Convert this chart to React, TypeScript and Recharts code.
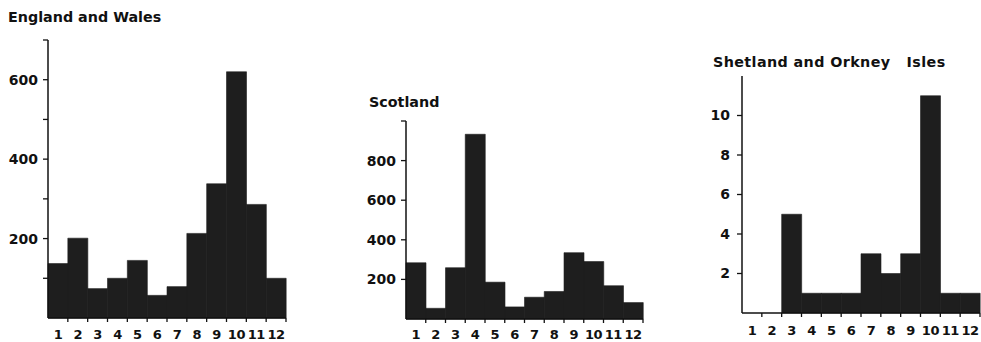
import React from 'react';
import { BarChart, Bar, XAxis, YAxis } from 'recharts';

const months = ['1', '2', '3', '4', '5', '6', '7', '8', '9', '10', '11', '12'];
const englandWales = [137, 201, 74, 100, 145, 57, 79, 213, 338, 620, 286, 100];
const scotland = [284, 54, 259, 933, 186, 61, 110, 139, 335, 290, 168, 83];
const shetland = [0, 0, 5, 1, 1, 1, 3, 2, 3, 11, 1, 1];

const ewTicks = [100, 200, 300, 400, 500, 600, 700];
const ewLabels = [200, 400, 600];
const scTicks = [200, 400, 600, 800, 1000];
const scLabels = [200, 400, 600, 800];
const shTicks = [2, 4, 6, 8, 10];
const shLabels = [2, 4, 6, 8, 10];

const titles = ['England and Wales', 'Scotland', 'Shetland and Orkney   Isles'];

const FONT = 'DejaVu Sans';
const INK = '#111';
const BAR = '#1e1e1e';

const build = (vals: number[]) => months.map((m, i) => ({ m, v: vals[i] }));

type PanelProps = {
  left: number;
  width: number;
  vals: number[];
  domainMax: number;
  ticks: number[];
  labels: number[];
  top: number;
  xHeight: number;
  yWidth: number;
  mLeft: number;
  mRight: number;
  labelDy: number;
  tickMargin: number;
};

const makeTick = (band: number, labelDy: number) => (props: any) => {
  const { x, y, payload } = props;
  return (
    <g>
      <line x1={x + band / 2} x2={x + band / 2} y1={y} y2={y + 4} stroke={INK} strokeWidth={1.3} />
      <text
        x={x}
        y={y + labelDy}
        textAnchor="middle"
        fill={INK}
        fontSize={13}
        fontWeight="bold"
        fontFamily={FONT}
        letterSpacing={-0.5}
      >
        {payload.value}
      </text>
    </g>
  );
};

const Panel = (p: PanelProps) => {
  const plotW = p.width - p.yWidth - p.mLeft - p.mRight;
  const band = plotW / months.length;
  return (
    <div style={{ position: 'absolute', left: p.left, top: 0, width: p.width, height: 342 }}>
      <BarChart
        width={p.width}
        height={342}
        data={build(p.vals)}
        margin={{ top: p.top, right: p.mRight, left: p.mLeft, bottom: 0 }}
        barCategoryGap={0}
        barGap={0}
      >
        <XAxis
          dataKey="m"
          height={p.xHeight}
          interval={0}
          tickLine={false}
          tickSize={0}
          tickMargin={0}
          axisLine={{ stroke: INK, strokeWidth: 1.5 }}
          tick={makeTick(band, p.labelDy)}
        />
        <YAxis
          type="number"
          width={p.yWidth}
          domain={[0, p.domainMax]}
          ticks={p.ticks}
          interval={0}
          tickSize={5}
          tickMargin={p.tickMargin}
          tickFormatter={(v: number) => (p.labels.includes(v) ? String(v) : '')}
          axisLine={{ stroke: INK, strokeWidth: 1.5 }}
          tickLine={{ stroke: INK, strokeWidth: 1.3 }}
          tick={{ fill: INK, fontSize: 14, fontWeight: 'bold', fontFamily: FONT }}
        />
        <Bar dataKey="v" fill={BAR} stroke={BAR} strokeWidth={0.6} isAnimationActive={false} />
      </BarChart>
    </div>
  );
};

export default function App() {
  return (
    <div
      style={{
        position: 'fixed',
        left: 0,
        top: 0,
        width: 981,
        height: 342,
        background: '#fff',
        overflow: 'hidden',
      }}
    >
      <Panel
        left={0}
        width={300}
        vals={englandWales}
        domainMax={700}
        ticks={ewTicks}
        labels={ewLabels}
        top={40}
        xHeight={24}
        yWidth={44}
        mLeft={4}
        mRight={14}
        labelDy={21}
        tickMargin={5}
      />
      <Panel
        left={350}
        width={300}
        vals={scotland}
        domainMax={1000}
        ticks={scTicks}
        labels={scLabels}
        top={121}
        xHeight={23}
        yWidth={44}
        mLeft={12}
        mRight={7}
        labelDy={20}
        tickMargin={5}
      />
      <Panel
        left={690}
        width={291}
        vals={shetland}
        domainMax={12}
        ticks={shTicks}
        labels={shLabels}
        top={76}
        xHeight={29}
        yWidth={40}
        mLeft={12}
        mRight={1}
        labelDy={22}
        tickMargin={7}
      />
      <svg
        width={981}
        height={342}
        style={{ position: 'absolute', left: 0, top: 0, pointerEvents: 'none' }}
      >
        <text x={8} y={22} fill={INK} fontSize={14.3} fontWeight="bold" fontFamily={FONT}>
          {titles[0]}
        </text>
        <text x={369} y={107} fill={INK} fontSize={14.3} fontWeight="bold" fontFamily={FONT}>
          {titles[1]}
        </text>
        <text
          x={713}
          y={67}
          fill={INK}
          fontSize={14.3}
          fontWeight="bold"
          fontFamily={FONT}
          letterSpacing={0.4}
          style={{ whiteSpace: 'pre' }}
        >
          {titles[2]}
        </text>
      </svg>
    </div>
  );
}
